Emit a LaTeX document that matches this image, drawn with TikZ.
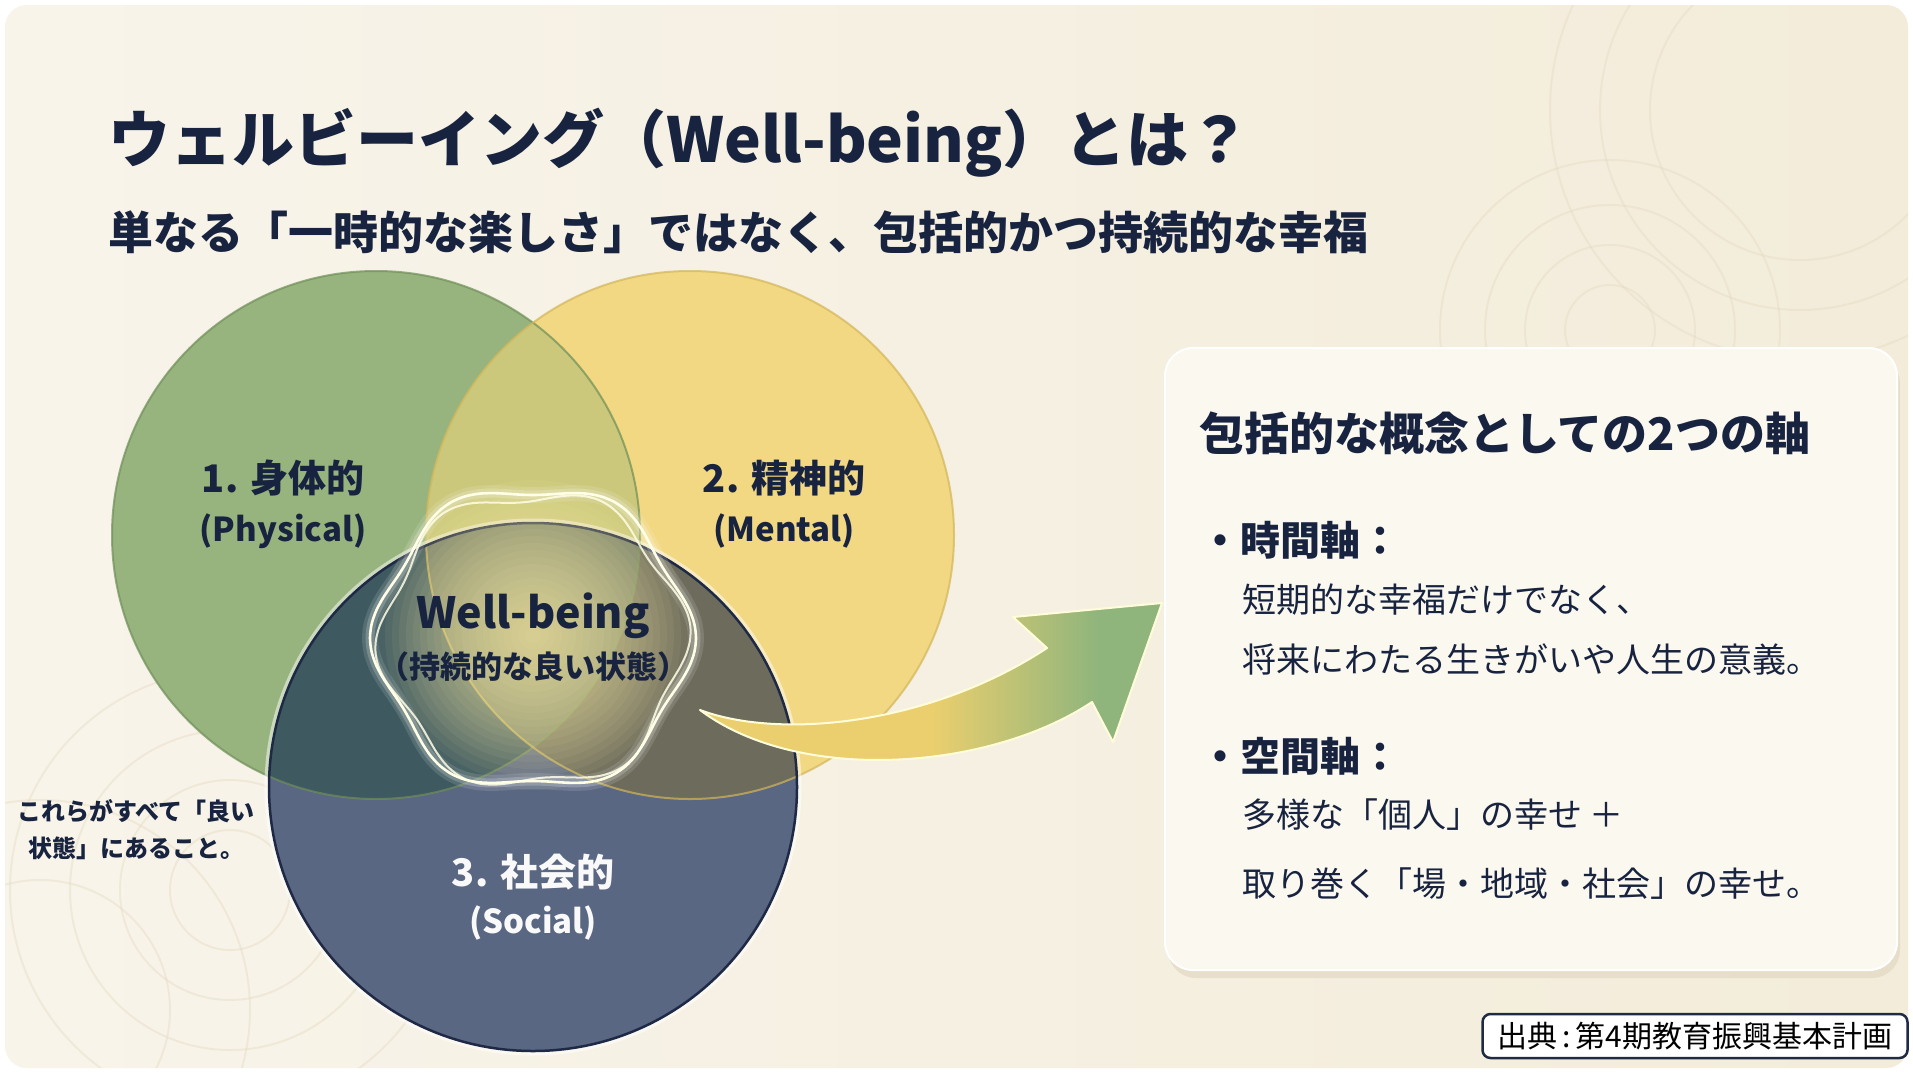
\documentclass[tikz,border=0pt]{standalone}
\usepackage{fontspec}
\setmainfont{Noto Sans CJK JP}
\definecolor{bgL}{HTML}{F8F4EA}
\definecolor{bgR}{HTML}{F3ECDA}
\definecolor{ringc}{HTML}{E6DCC4}
\definecolor{ttl}{HTML}{18243F}
\definecolor{grn}{HTML}{98B47E}
\definecolor{grnB}{HTML}{6E8E58}
\definecolor{yel}{HTML}{F2D882}
\definecolor{yelB}{HTML}{D2B65A}
\definecolor{gy}{HTML}{CBC87C}
\definecolor{nav}{HTML}{5A6782}
\definecolor{navB}{HTML}{1E2946}
\definecolor{ng}{HTML}{3E5A60}
\definecolor{ny}{HTML}{6D6C5C}
\definecolor{ngy}{HTML}{76806A}
\definecolor{glowc}{HTML}{FFF1A8}
\definecolor{arY}{HTML}{EBCF6E}
\definecolor{arG}{HTML}{90B57C}
\definecolor{boxc}{HTML}{FBF8F0}
\definecolor{shadc}{HTML}{E2D9C4}
\definecolor{srcB}{HTML}{1F2A44}
\pgfdeclarehorizontalshading{arrowshade}{100bp}{color(0bp)=(arY); color(50bp)=(arY); color(68bp)=(arG); color(100bp)=(arG)}
\newcommand{\myfs}[1]{\fontsize{#1}{#1}\selectfont}
\begin{document}
\begin{tikzpicture}[x=1pt,y=-1pt,
  txt/.style={inner sep=0pt, text=ttl},
  ring/.style={draw=ringc, line width=2pt, opacity=0.45},
  flower/.style={line join=round}]
\useasboundingbox (0,0) rectangle (1913,1076);
\fill[white] (0,0) rectangle (1913,1076);
\shade[left color=bgL, right color=bgR, rounded corners=22pt] (5,5) rectangle (1908,1068);
% decorative rings
\begin{scope}
\clip[rounded corners=22pt] (5,5) rectangle (1908,1068);
\foreach \r in {45,85,125,170} \draw[ring] (1610,330) circle[radius=\r pt];
\foreach \r in {150,200,250} \draw[ring] (1800,110) circle[radius=\r pt];
\foreach \r in {60,110,160,220} \draw[ring] (230,890) circle[radius=\r pt];
\foreach \r in {130,210} \draw[ring] (40,1010) circle[radius=\r pt];
\end{scope}
% circles
\coordinate (gc) at (376,535);
\coordinate (yc) at (690,535);
\coordinate (nc) at (533,787);
\fill[grn] (gc) circle[radius=264pt];
\fill[yel] (yc) circle[radius=264pt];
\begin{scope}
\clip (gc) circle[radius=264pt];
\fill[gy] (yc) circle[radius=264pt];
\end{scope}
\fill[nav] (nc) circle[radius=264pt];
\begin{scope}
\clip (nc) circle[radius=264pt];
\fill[ng] (gc) circle[radius=264pt];
\fill[ny] (yc) circle[radius=264pt];
\clip (gc) circle[radius=264pt];
\fill[ngy] (yc) circle[radius=264pt];
\end{scope}
\draw[grnB, line width=2pt, opacity=0.7] (gc) circle[radius=264pt];
\draw[yelB, line width=2pt, opacity=0.7] (yc) circle[radius=264pt];
\draw[white, line width=5pt, opacity=0.5] (nc) circle[radius=266pt];
\draw[navB, line width=2.5pt] (nc) circle[radius=264pt];
% glow
\foreach \r in {155,148,...,8} \fill[glowc, opacity=0.06] (533,635) circle[radius=\r pt];
% flower outlines
\coordinate (wbc) at (533,638);
\foreach \w/\o in {16/0.12,9/0.2} {
  \draw[white, line width=\w pt, opacity=\o, flower] plot[smooth cycle, samples=72, domain=0:355] ({533+(156+7*cos(6*\x))*cos(\x)}, {638+(150+7*cos(6*\x))*sin(\x)});
}
\draw[white!90!yellow, line width=2.6pt, flower] plot[smooth cycle, samples=72, domain=0:355] ({533+(156+7*cos(6*\x))*cos(\x)}, {638+(150+7*cos(6*\x))*sin(\x)});
\draw[white!90!yellow, line width=2pt, opacity=0.85, flower] plot[smooth cycle, samples=72, domain=0:355] ({533+(150+8*cos(6*\x+28))*cos(\x)}, {640+(146+8*cos(6*\x+28))*sin(\x)});
% circle labels
\node[txt, font={\myfs{38}\bfseries}] (phys) at (283,478) {1. 身体的};
\node[txt, font={\myfs{33}\bfseries}] (physE) at (283,531) {(Physical)};
\node[txt, font={\myfs{38}\bfseries}] (ment) at (784,478) {2. 精神的};
\node[txt, font={\myfs{33}\bfseries}] (mentE) at (784,531) {(Mental)};
\node[txt, font={\myfs{43}\bfseries}] (wb) at (533,616) {Well-being};
\node[txt, font={\myfs{31}\bfseries}] (wbJ) at (533,667) {（持続的な良い状態）};
\node[txt, text=white!95!gray, font={\myfs{38}\bfseries}] (soc) at (533,872) {3. 社会的};
\node[txt, text=white!95!gray, font={\myfs{33}\bfseries}] (socE) at (533,923) {(Social)};
% title
\node[txt, anchor=west, font={\myfs{62}\bfseries}] (title) at (108,143) {ウェルビーイング（Well-being）とは？};
\node[txt, anchor=west, font={\myfs{45}\bfseries}] (sub) at (108,232) {単なる「一時的な楽しさ」ではなく、包括的かつ持続的な幸福};
% left note
\node[txt, align=center, font={\myfs{24}\bfseries}] (note) at (136,830) {これらがすべて「良い\\[13pt]状態」にあること。};
% right box
\fill[shadc, opacity=0.7, rounded corners=28pt] (1168,356) rectangle (1900,978);
\node[draw=white, line width=2pt, fill=boxc, rounded corners=28pt, minimum width=732pt, minimum height=622pt, inner sep=0pt] (box) at (1531,659) {};
\node[txt, anchor=west, font={\myfs{45}\bfseries}] (btitle) at (1199,433) {包括的な概念としての2つの軸};
\node[txt, anchor=west, font={\myfs{40}\bfseries}] (b1) at (1200,540) {・時間軸：};
\node[txt, anchor=west, font={\myfs{34}}] (b1a) at (1242,600) {短期的な幸福だけでなく、};
\node[txt, anchor=west, font={\myfs{34}}] (b1b) at (1242,659) {将来にわたる生きがいや人生の意義。};
\node[txt, anchor=west, font={\myfs{40}\bfseries}] (b2) at (1200,756) {・空間軸：};
\node[txt, anchor=west, font={\myfs{34}}] (b2a) at (1242,815) {多様な「個人」の幸せ ＋};
\node[txt, anchor=west, font={\myfs{34}}] (b2b) at (1242,884) {取り巻く「場・地域・社会」の幸せ。};
% arrow
\coordinate (at) at (700,710);
\coordinate (an1) at (1047,648);
\coordinate (ab1) at (1013,617);
\coordinate (atip) at (1162,603);
\coordinate (ab2) at (1113,742);
\coordinate (an2) at (1092,702);
\shadedraw[shading=arrowshade, draw=white!85!yellow, line width=2pt, line join=round]
  (at) .. controls (780,740) and (930,725) .. (an1) -- (ab1) -- (atip) -- (ab2) -- (an2)
  .. controls (990,770) and (800,785) .. (at) -- cycle;
% source
\node[draw=srcB, line width=2.5pt, fill=white, rounded corners=8pt, minimum width=425pt, minimum height=44pt, inner sep=0pt, font={\myfs{30}}, text=black] (src) at (1695,1036) {出典\,:\,第4期教育振興基本計画};
\end{tikzpicture}
\end{document}
